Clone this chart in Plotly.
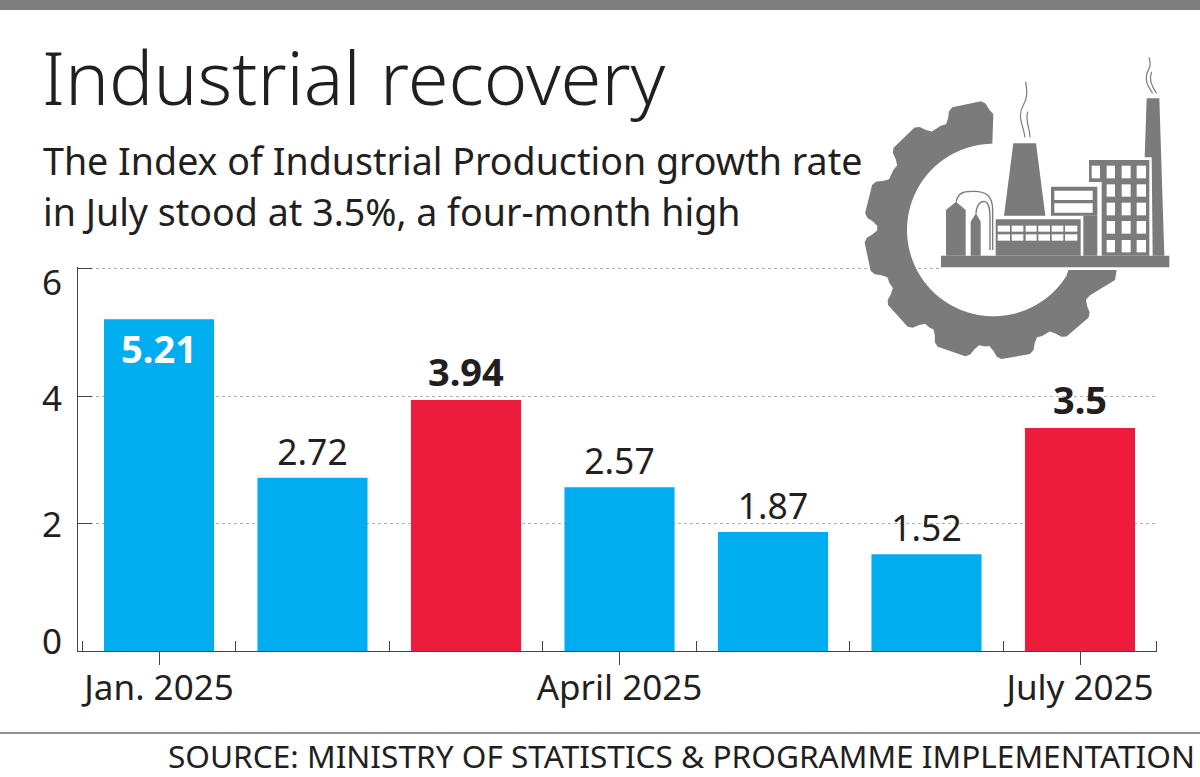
import math
import plotly.graph_objects as go

# ---- data ----
months = ["Jan. 2025", "Feb. 2025", "March 2025", "April 2025", "May 2025", "June 2025", "July 2025"]
growth = [5.21, 2.72, 3.94, 2.57, 1.87, 1.52, 3.5]
labels = ["5.21", "2.72", "3.94", "2.57", "1.87", "1.52", "3.5"]
highlight = [False, False, True, False, False, False, True]
x_tick_months = ["Jan. 2025", "April 2025", "July 2025"]
y_ticks = [0, 2, 4, 6]

TITLE = "Industrial recovery"
SUB1 = "The Index of Industrial Production growth rate"
SUB2 = "in July stood at 3.5%, a four-month high"
SOURCE = "SOURCE: MINISTRY OF STATISTICS & PROGRAMME IMPLEMENTATION"

BLUE, RED, GREY, INK = "#00aeef", "#ed1b3c", "#7b7b7b", "#231f20"
FONT = "Noto Sans"

# plot area in page pixels (the top sits 2 px above the 6 line, so that its gridline is drawn)
L, R, T, B = 78, 1157, 267, 651
W, H = 1200, 777


def px(x):
    return (x - L) / (R - L)


def py(y):
    return (B - y) / (B - T)


# icon helpers: coordinates in page pixels, converted to paper space
def zx(x):
    return px(850 + x / 3)


def zy(y):
    return py(50 + y / 3)


def poly(points, fill=GREY):
    path = "M" + " L".join(f"{zx(a):.5f},{zy(b):.5f}" for a, b in points) + " Z"
    return dict(type="path", xref="paper", yref="paper", path=path, fillcolor=fill, line_width=0, layer="above")


def box(x0, y0, x1, y1, fill=GREY):
    return poly([(x0, y0), (x1, y0), (x1, y1), (x0, y1)], fill)


def curve(points, width=1.4, color=GREY):
    a = points[0]
    d = f"M{zx(a[0]):.5f},{zy(a[1]):.5f}"
    for i in range(1, len(points), 3):
        d += " C" + " ".join(f"{zx(p[0]):.5f},{zy(p[1]):.5f}" for p in points[i:i + 3])
    return dict(type="path", xref="paper", yref="paper", path=d, line=dict(color=color, width=width), layer="above")


def gear():
    cx, cy = 430, 540
    r_in, r_body, r_tip = 259, 348, 388
    start, end = 90.0, 335.0
    teeth = [102, 134, 166, 192, 222, 251, 280, 311]
    profile = ((-12, r_body), (-10, r_tip - 26), (-8.5, r_tip - 8), (-6.5, r_tip),
               (6.5, r_tip), (8.5, r_tip - 8), (10, r_tip - 26), (12, r_body), (15, r_body + 2))
    pts = [(cx + r_body * math.cos(math.radians(start)), cy - r_body * math.sin(math.radians(start)))]
    for t in teeth:
        for off, r in profile:
            ang = t + off
            if start <= ang <= end:
                pts.append((cx + r * math.cos(math.radians(ang)), cy - r * math.sin(math.radians(ang))))
    pts.append((795, 690))
    pts.append((800, 660))
    pts.append((655, 660))
    a = 328.0
    while a >= start:
        pts.append((cx + r_in * math.cos(math.radians(a)), cy - r_in * math.sin(math.radians(a))))
        a -= 4
    pts.append((cx - 3, cy - r_in))
    return poly(pts)


icon = [gear()]
# white halo behind the factory so the gear is cut
icon.append(box(273, 610, 958, 660, "#ffffff"))
# chimney
icon.append(poly([(890, 145), (928, 145), (943, 617), (908, 617), (905, 322), (884, 322)]))
# tall building
icon.append(box(717, 330, 898, 396))
icon.append(box(755, 396, 898, 617))
for xa, xb in ((725, 750), (770, 795), (815, 842), (860, 888)):
    icon.append(box(xa, 347, xb, 385, "#ffffff"))
for ya, yb in ((403, 440), (458, 496), (513, 551), (570, 607)):
    for xa, xb in ((770, 795), (815, 842), (860, 888)):
        icon.append(box(xa, ya, xb, yb, "#ffffff"))
# middle block
icon.append(box(603, 410, 742, 497))
icon.append(box(700, 497, 742, 617))
icon.append(box(613, 422, 728, 450, "#ffffff"))
icon.append(box(613, 460, 728, 488, "#ffffff"))
# cooling tower
icon.append(poly([(490, 280), (558, 280), (586, 497), (462, 497)]))
# low hall
icon.append(box(437, 508, 692, 617))
for xa, xb in ((443, 480), (485, 520), (527, 560), (565, 600), (605, 640), (645, 682)):
    icon.append(box(xa, 527, xb, 545, "#ffffff"))
    icon.append(box(xa, 553, xb, 572, "#ffffff"))
# tanks
icon.append(poly([(288, 617), (288, 480), (318, 455), (347, 480), (347, 617)]))
icon.append(poly([(362, 617), (362, 515), (378, 490), (392, 515), (392, 617)]))
# pipes
icon.append(curve([(318, 455), (325, 425), (345, 424), (372, 424), (410, 424), (428, 440), (428, 480),
                   (428, 520), (428, 560), (428, 600)]))
icon.append(curve([(378, 490), (380, 460), (395, 453), (405, 455), (418, 458), (420, 480), (420, 510),
                   (420, 540), (420, 570), (420, 600)]))
# base
icon.append(box(273, 617, 958, 652))
# smoke
icon.append(curve([(525, 262), (520, 225), (500, 200), (520, 165), (535, 140), (530, 120), (527, 95)], 1.2))
icon.append(curve([(540, 262), (540, 235), (525, 215), (533, 185)], 1.2))
icon.append(curve([(908, 130), (895, 110), (880, 90), (895, 60), (905, 45), (900, 35), (897, 22)], 1.2))
icon.append(curve([(920, 130), (905, 110), (895, 90), (905, 65)], 1.2))

page_shapes = [
    dict(type="rect", xref="paper", yref="paper", x0=px(0), x1=px(W), y0=py(0), y1=py(10),
         fillcolor="#7f7f7f", line_width=0, layer="below"),
    dict(type="line", xref="paper", yref="paper", x0=px(0), x1=px(W), y0=py(733), y1=py(733),
         line=dict(color="#6f6f6f", width=1.5)),
]


def text(s, x, y, size, anchor="left", color=INK, weight=400):
    return dict(text=s, xref="paper", yref="paper", x=px(x), y=py(y), xanchor=anchor, yanchor="middle",
                showarrow=False, font=dict(family=FONT, size=size, color=color, weight=weight))


annotations = [
    text(TITLE, 40, 76, 74, weight=300),
    text(SUB1, 41, 160, 37.6),
    text(SUB2, 41, 212, 37.6),
    text(SOURCE, 1197, 755.5, 31.6, anchor="right"),
]
for v, shift in zip(y_ticks, (11, 0, -1, -13)):
    annotations.append(dict(text=str(v), xref="paper", yref="y", x=px(52), y=v, yshift=shift,
                            xanchor="center", yanchor="middle", showarrow=False,
                            font=dict(family=FONT, size=35, color=INK)))

x_pos = list(range(len(months)))
is_bold = [h or v > 5 for h, v in zip(highlight, growth)]
fig = go.Figure(go.Bar(
    x=x_pos,
    y=growth,
    width=0.717,
    marker=dict(color=[RED if h else BLUE for h in highlight], line_width=0),
    text=labels,
    textposition=["inside" if v > 5 else "outside" for v in growth],
    insidetextanchor="end",
    textangle=0,
    textfont=dict(family=FONT, size=[38 if b else 35.5 for b in is_bold],
                  color=["#ffffff" if v > 5 else INK for v in growth],
                  weight=[700 if b else 400 for b in is_bold]),
    cliponaxis=False,
    hoverinfo="skip",
))
fig.update_layout(
    width=W, height=H, autosize=False,
    margin=dict(l=L, r=W - R, t=T, b=H - B, pad=0),
    paper_bgcolor="white", plot_bgcolor="white",
    showlegend=False,
    shapes=page_shapes + icon,
    annotations=annotations,
    xaxis=dict(
        range=[(L - 159) / 153.5, (R - 159) / 153.5],
        tickmode="array",
        tickvals=[months.index(m) for m in x_tick_months],
        ticktext=x_tick_months,
        ticks="outside", ticklen=13, tickwidth=1, tickcolor="#444",
        ticklabelstandoff=-7,
        tickfont=dict(family=FONT, size=35, color=INK),
        showgrid=False, zeroline=False,
        showline=True, linecolor="#444", linewidth=1,
        minor=dict(ticks="inside", ticklen=10, tickwidth=1, tickcolor="#444", tick0=0.5, dtick=1, showgrid=False),
    ),
    yaxis=dict(
        range=[0, 6.03],
        tickvals=y_ticks,
        ticks="inside", ticklen=14, tickwidth=1, tickcolor="#444",
        showticklabels=False,
        showgrid=True, gridcolor="#b0b0b0", griddash="dot", gridwidth=1,
        zeroline=False,
        showline=True, linecolor="#444", linewidth=1,
    ),
)
fig.write_html("out.html", config={"displayModeBar": False},
               post_script="document.body.style.margin='0';")
